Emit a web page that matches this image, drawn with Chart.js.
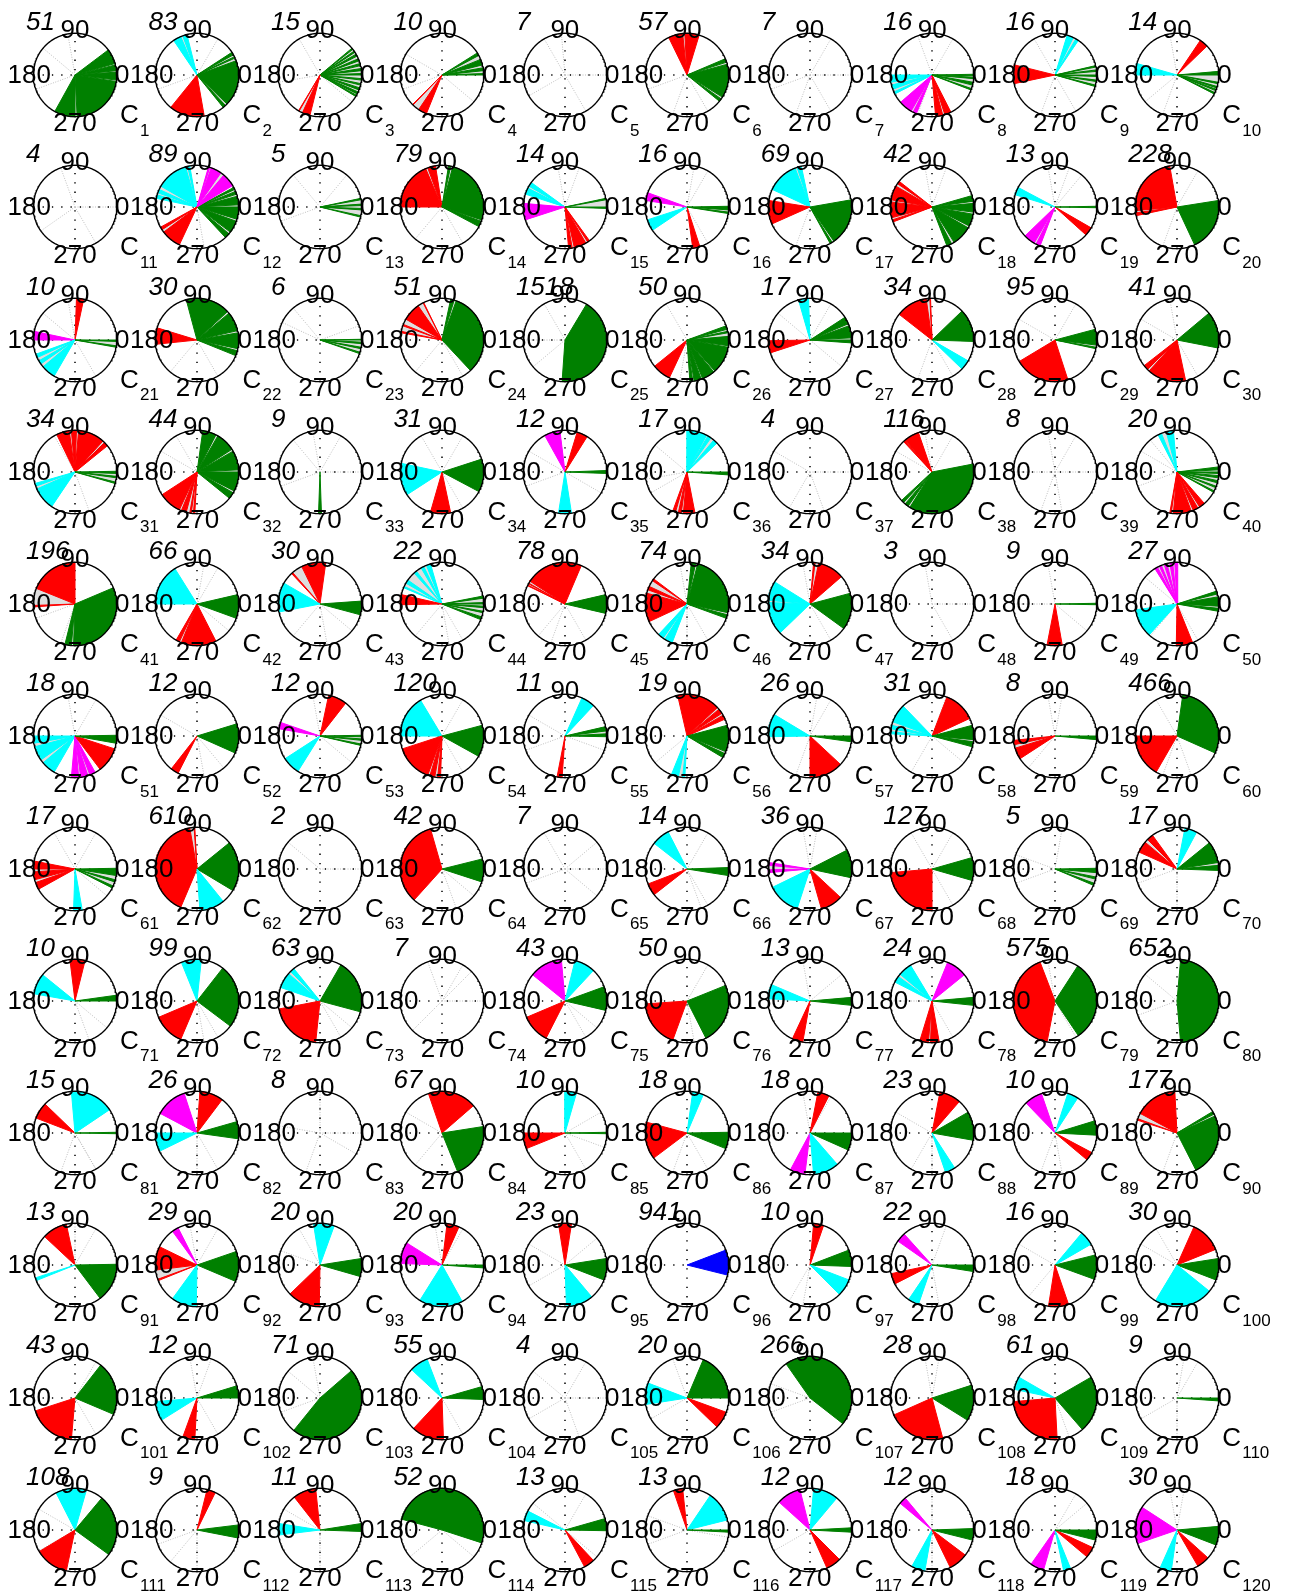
<!DOCTYPE html>
<html><head><meta charset="utf-8">
<script src="https://cdn.jsdelivr.net/npm/chart.js@4.4.0/dist/chart.umd.min.js"></script>
<style>
html,body{margin:0;padding:0;background:#fff;}
#page{position:relative;width:1290px;height:1595px;overflow:hidden;font-family:"Liberation Sans",Arial,Helvetica,sans-serif;color:#000;}
canvas.cv{position:absolute;}
.t{position:absolute;line-height:1;white-space:nowrap;}
</style></head><body><div id="page"></div>
<script>
// ---------------- DATA ----------------
const counts = [
  51,83,15,10,7,57,7,16,16,14,
  4,89,5,79,14,16,69,42,13,228,
  10,30,6,51,1518,50,17,34,95,41,
  34,44,9,31,12,17,4,116,8,20,
  196,66,30,22,78,74,34,3,9,27,
  18,12,12,120,11,19,26,31,8,466,
  17,610,2,42,7,14,36,127,5,17,
  10,99,63,7,43,50,13,24,575,652,
  15,26,8,67,10,18,18,23,10,177,
  13,29,20,20,23,941,10,22,16,30,
  43,12,71,55,4,20,266,28,61,9,
  108,9,11,52,13,13,12,12,18,30
];
const angleTickLabels = ['90','180','0','270'];
const clusterPrefix = 'C';

// fans: [colour, fromDeg, toDeg] (0 = east, counter-clockwise)
const fansRow1 = [
  [['g',-119,-89],['g',-87,-9],['g',-7,4],['g',6,14],['g',16,37]],
  [['c',104,110],['c',113,124],['r',231,280],['g',-51,-47],['g',-44,20],['g',24,26],['g',29,33]],
  [['g',38,40],['g',33,35],['g',27,30],['g',20,23],['g',13,16],['g',6,9],['g',0,2],['g',-7,-5],['g',-14,-12],['g',-21,-18],['g',-27,-24],['g',-31,-29],['r',239,240],['r',245,256]],
  [['g',0,2],['g',6,10],['g',14,22],['g',28,32],['r',225,226],['r',236,248]],
  [],
  [['r',73,93],['r',96,116],['g',-39,-35],['g',-32,15],['g',18,23]],
  [],
  [['c',180,190],['c',194,200],['c',204,207],['m',221,240],['m',243,248],['r',275,285],['r',288,297],['g',-21,-19],['g',-14,-10],['g',-5,-3],['g',-1,1]],
  [['c',56,60],['c',64,73],['r',166,192],['g',-16,-14],['g',-9,-7],['g',-2,0],['g',5,7],['g',11,13]],
  [['r',44,56],['c',164,180],['g',0,5],['g',-12,-10],['g',-18,-16],['g',-22,-20],['g',-27,-25]]
];
const fansRow2 = [
  [],
  [['c',100,103],['c',106,150],['c',155,160],['c',163,168],['g',-47,-40],['g',-37,-20],['g',-17,0],['g',3,15],['g',18,22],['g',25,28],['m',31,50],['m',55,70],['m',72,74],['r',209,213],['r',217,245]],
  [['g',-14,-12],['g',-4,-2],['g',2,4],['g',10,12]],
  [['r',99,110],['r',113,180],['g',-28,-20],['g',-18,75],['g',78,81]],
  [['c',144,150],['c',153,162],['m',175,198],['r',275,280],['r',283,300],['r',303,306],['g',-2,0],['g',10,12]],
  [['m',160,171],['c',198,214],['r',278,288],['g',-9,-7],['g',-4,1]],
  [['c',102,108],['c',111,155],['r',171,204],['g',-61,-58],['g',-55,10]],
  [['r',142,146],['r',150,170],['r',173,195],['r',198,201],['g',-69,-62],['g',-58,-30],['g',-27,-10],['g',-7,5],['g',8,16]],
  [['c',152,163],['m',224,240],['m',243,249],['r',-42,-30],['g',-1,1]],
  [['r',100,185],['r',188,192],['g',-65,9]]
];
const fansRow3 = [
  [['r',78,88],['m',168,180],['c',200,205],['c',210,215],['c',220,240],['g',-10,-8],['g',-2,0]],
  [['r',163,186],['g',-22,-15],['g',-12,10],['g',13,40],['g',43,105]],
  [['g',-19,-17],['g',-12,-10],['g',-5,-3],['g',0,1]],
  [['r',116,117],['r',125,150],['r',158,160],['r',168,170],['g',-47,70],['g',73,78]],
  [['g',-94,59]],
  [['r',219,245],['g',-86,-82],['g',-80,-70],['g',-68,-50],['g',-48,-10],['g',-8,5],['g',10,12],['g',15,20]],
  [['c',92,106],['r',181,198],['g',-4,0],['g',3,20],['g',23,33]],
  [['r',92,93],['r',98,142],['c',-44,-30],['g',-2,44]],
  [['g',-12,-10],['g',-7,15],['r',211,288]],
  [['g',-11,40],['r',218,225],['r',228,282]]
];
const fansRow4 = [
  [['r',39,45],['r',48,85],['r',88,95],['r',98,116],['c',196,200],['c',204,236],['g',-16,-14],['g',-8,-6],['g',-2,1]],
  [['g',-39,-30],['g',-27,0],['g',3,30],['g',33,60],['g',63,82],['r',213,245],['r',248,255],['r',260,262],['r',265,267]],
  [['g',268,272]],
  [['c',168,213],['r',254,282],['g',-28,18]],
  [['m',97,119],['r',58,73],['c',261,279],['g',-2,2]],
  [['c',44,50],['c',55,60],['c',62,89],['r',250,254],['r',258,262],['r',265,281],['g',-4,0]],
  [],
  [['r',109,130],['r',131,133],['g',-137,-133],['g',-130,-125],['g',-122,11]],
  [],
  [['c',95,105],['c',112,117],['g',-29,-27],['g',-22,-20],['g',-15,-12],['g',-8,-5],['g',-2,0],['g',3,7],['r',260,262],['r',265,290],['r',293,300],['r',303,311]]
];
const fansRow5 = [
  [['r',90,158],['r',182,184],['g',-104,-95],['g',-92,23]],
  [['c',122,180],['r',240,245],['r',248,297],['g',-20,13]],
  [['r',82,116],['r',131,133],['c',150,191],['g',-15,4]],
  [['c',106,112],['c',116,120],['c',128,132],['c',145,150],['c',155,157],['r',167,181],['g',-22,-18],['g',-12,-10],['g',-5,-3],['g',0,2],['g',8,11]],
  [['r',67,147],['r',150,151],['r',153,154],['g',-13,13]],
  [['r',143,146],['r',155,160],['r',165,205],['g',-20,-15],['g',-12,75],['g',78,84],['c',227,235],['c',238,249]],
  [['r',41,78],['r',83,85],['c',148,175],['c',178,224],['g',-36,15]],
  [],
  [['g',-1,1],['r',259,280]],
  [['m',89,93],['m',96,100],['m',104,108],['m',112,115],['m',118,122],['c',188,228],['r',269,292],['g',-10,-6],['g',-3,10],['g',14,18]]
];
const fansRow6 = [
  [['c',180,190],['c',195,215],['c',220,240],['m',265,275],['m',278,288],['m',291,299],['r',-53,-18],['g',-10,1]],
  [['g',-24,17],['r',232,243]],
  [['r',52,78],['m',161,170],['c',213,238],['g',-13,-11],['g',-6,-4],['g',-1,1]],
  [['c',121,180],['r',198,250],['r',253,260],['r',264,268],['g',-29,15]],
  [['c',47,66],['g',-1,3],['g',7,13],['r',259,266]],
  [['r',24,30],['r',33,40],['r',43,103],['g',-31,-25],['g',-22,15],['c',248,258],['c',264,267]],
  [['c',149,181],['r',270,317],['g',-8,0]],
  [['c',134,160],['c',165,170],['c',174,177],['r',25,69],['g',-15,-8],['g',-5,15]],
  [['r',186,192],['r',197,213],['g',-5,0]],
  [['g',-24,82],['r',180,240]]
];
const fansRow7 = [
  [['r',169,180],['r',184,195],['r',199,209],['c',268,280],['g',-27,-24],['g',-18,-15],['g',-9,1]],
  [['r',93,94],['r',100,247],['g',-31,39],['c',274,309]],
  [],
  [['r',106,228],['g',-18,14]],
  [],
  [['c',117,142],['r',201,218],['g',-9,2]],
  [['m',171,175],['m',181,185],['c',206,252],['r',286,317],['g',-12,27]],
  [['r',185,270],['g',-16,16]],
  [['g',-23,-20],['g',-14,-11],['g',-5,1]],
  [['r',126,135],['r',140,156],['c',62,79],['g',-2,5],['g',9,39]]
];
const fansRow8 = [
  [['r',76,97],['c',141,170],['g',0,8]],
  [['c',84,112],['g',-37,52],['r',203,247]],
  [['c',129,135],['c',139,161],['g',-15,60],['r',191,264]],
  [],
  [['m',95,141],['c',47,76],['g',-13,20],['r',203,243]],
  [['r',184,250],['g',-63,22]],
  [['c',157,177],['g',-6,5],['r',245,260]],
  [['c',121,140],['c',144,153],['m',39,68],['g',-6,5],['r',253,265],['r',268,280]],
  [['r',111,259],['g',-56,57]],
  [['g',-85,85]]
];
const fansRow9 = [
  [['r',136,159],['c',34,95],['g',-1,1]],
  [['m',108,152],['r',53,86],['c',180,206],['g',-8,16]],
  [],
  [['r',41,109],['g',-68,9]],
  [['c',74,90],['r',180,202],['g',-1,1]],
  [['c',67,82],['r',165,217],['g',-22,1]],
  [['r',63,79],['g',-24,0],['m',242,263],['c',275,311]],
  [['r',49,79],['g',-10,30],['c',289,303]],
  [['m',109,134],['c',57,72],['g',-3,17],['r',-40,-28]],
  [['r',93,152],['r',160,162],['g',-63,24],['g',27,31]]
];
const fansRow10 = [
  [['r',102,137],['c',198,202],['g',-53,1]],
  [['m',117,126],['r',154,187],['r',200,202],['g',-23,19],['c',234,269]],
  [['c',70,99],['g',-16,9],['r',224,269]],
  [['r',66,83],['m',148,178],['g',-4,0],['c',238,299]],
  [['r',81,99],['g',-21,9],['c',272,310]],
  [['b',-14,21]],
  [['r',71,85],['g',-2,21],['c',-45,-21]],
  [['m',132,145],['r',192,207],['c',236,251],['g',-9,0]],
  [['c',30,50],['g',-20,14],['r',261,289]],
  [['r',22,66],['g',-21,9],['c',239,321]]
];
const fansRow11 = [
  [['g',-23,52],['r',198,265]],
  [['g',0,17],['c',185,212],['r',250,267]],
  [['g',-129,41]],
  [['c',111,137],['g',-2,16],['r',227,272]],
  [],
  [['c',159,189],['g',0,67],['r',-44,-20]],
  [['g',-38,125]],
  [['g',-32,18],['r',204,285]],
  [['c',150,168],['g',-49,30],['r',185,273]],
  [['g',-4,0]]
];
const fansRow12 = [
  [['c',74,117],['g',-36,50],['r',211,258]],
  [['r',64,76],['g',-11,7]],
  [['r',96,128],['c',171,187],['g',-2,9]],
  [['g',-18,165]],
  [['c',153,167],['g',-1,16],['r',-62,-47]],
  [['r',96,109],['c',14,56],['g',-3,0]],
  [['m',104,138],['c',50,85],['g',-3,3],['r',-66,-45]],
  [['m',130,140],['g',-14,2],['c',241,260],['r',-64,-37]],
  [['m',235,254],['c',282,292],['r',-40,-25],['g',-14,0]],
  [['m',147,199],['g',-21,5],['r',-60,-42],['c',246,262]]
];

// faint grey background trajectories (direction, degrees)
const grayRays = [
  [100,140,200],[200,60],[190,-40,120],[150,-40,200],[95,0,210,300,120],[200,250,-60],[60,0,200,250,300],[60,110,250],[120,250,300],[220,250,100],
  [110,0,215,300],[220,280],[130,200,50],[230,300],[70,100,300],[60,80,300],[-60,250],[70,100],[70,100,50],[60,250,300],
  [-60,100,140],[230,-60],[155,20,130],[230,-60],[120,180,220],[120,260],[-40,60,140],[250,-60],[150,60,240],[150,-60,100],
  [290,120],[120,150],[0,60,100,200,130],[120,60,-60],[200,-30,150],[140,190,210],[0,240,290,150],[60,100,150],[0,100,60,250,280,180],[130,200,150],
  [200,250],[60,80,-40],[230,280,-40],[230,280,-60],[250,300,230],[100,-60,270],[-60,100],[0,300,100],[100,-40,180],[140,230,-60],
  [60,100],[150,280,-50],[-40,100],[60,-60],[150,-20,200],[100,220],[80,60,250],[-40,240,70],[100,230,80],[120,250,290],
  [60,120,-40],[-60],[0,140],[-40,290],[0,40,200,320,120],[60,-60,290],[80,100],[120,60,300],[80,160,200],[270,200],
  [-40,290],[280,300],[-40,300],[0,45,60,225,110],[-40,300],[60,280],[40,100],[180,300],[100,300],[140,200],
  [250,-60,300],[300,270],[0,90,170,250,330],[150,230],[30,-20,300],[300,250],[100,60],[150,270,240],[250,280],[250,300],
  [60,90],[60,100],[120,160],[60,100],[150,210,40],[],[240,260],[280,70],[150,230],[150,120],
  [300,60],[300,100,70],[140,100,200],[300,240],[0,140,210,290,60],[210,110],[160,200],[80,100],[270,290],[80,60,210,270],
  [210,150],[200,230,270],[150,270],[220,-40],[140,60,-40],[200,-10,160],[300,210],[270,90],[40,60,250],[80,100]
];

// ---------------- RENDERING ----------------
const fansByRow = [fansRow1,fansRow2,fansRow3,fansRow4,fansRow5,fansRow6,fansRow7,fansRow8,fansRow9,fansRow10,fansRow11,fansRow12];
const COLORS = {r:'#ff0000', g:'#008000', c:'#00ffff', m:'#ff00ff', b:'#0000ff'};
const NCOL = 10;
const X0 = 75, DX = 122.47, Y0 = 75, DY = 132.27;
const RPX = 41.7, HALF = 48, LIM = HALF / RPX;
const page = document.getElementById('page');
const FONT = '"Liberation Sans", Arial, Helvetica, sans-serif';
const FS = 26, FS_SUB = 17;

function rad(d){ return d*Math.PI/180; }
function sectorPts(a1, a2){
  const pts = [{x:0,y:0}];
  const n = Math.max(1, Math.ceil((a2 - a1) / 2));
  for (let i = 0; i <= n; i++){
    const a = rad(a1 + (a2 - a1) * i / n);
    pts.push({x:Math.cos(a), y:Math.sin(a)});
  }
  pts.push({x:0,y:0});
  return pts;
}
function circlePts(){
  const pts = [];
  for (let d = 0; d <= 360; d += 2) pts.push({x:Math.cos(rad(d)), y:Math.sin(rad(d))});
  return pts;
}
function text(str, x, baseline, size, align, italic){
  const d = document.createElement('div');
  d.className = 't';
  d.textContent = str;
  d.style.fontSize = size + 'px';
  d.style.fontFamily = FONT;
  if (italic) d.style.fontStyle = 'italic';
  d.style.left = x + 'px';
  d.style.top = (baseline - 0.8465 * size) + 'px';
  if (align === 'center') d.style.transform = 'translateX(-50%)';
  else if (align === 'right') d.style.transform = 'translateX(-100%)';
  page.appendChild(d);
  return d;
}

function buildDatasets(fans, rays){
  const back = [];
  const line = (data, color, width, dash) => ({data, showLine:true, borderColor:color, borderWidth:width,
      borderDash:dash||[], pointRadius:0, pointHoverRadius:0, fill:false, tension:0});
  // faint grey rays
  rays.forEach(a => back.push(line([{x:0,y:0},{x:Math.cos(rad(a)),y:Math.sin(rad(a))}], '#bdbdbd', 1, [1,1.5])));
  // dotted axes
  back.push(line([{x:-1,y:0},{x:1,y:0}], '#000', 1.5, [1.3,8]));
  back.push(line([{x:0,y:-1},{x:0,y:1}], '#000', 1.5, [1.3,8]));
  // light grey under-fill spanning each colour group
  const groups = {};
  fans.forEach(([c,a1,a2]) => {
    if (!groups[c]) groups[c] = [a1,a2];
    else { groups[c][0] = Math.min(groups[c][0], a1); groups[c][1] = Math.max(groups[c][1], a2); }
  });
  Object.keys(groups).forEach(c => {
    const [a1,a2] = groups[c];
    if (a2 - a1 > 1.5) back.push({data:sectorPts(a1,a2), showLine:true, borderWidth:0, borderColor:'rgba(0,0,0,0)',
      backgroundColor:'#dedede', fill:'shape', pointRadius:0, pointHoverRadius:0, tension:0});
  });
  // coloured sectors
  fans.forEach(([c,a1,a2]) => back.push({data:sectorPts(a1,a2), showLine:true, borderWidth:1, borderColor:COLORS[c],
      backgroundColor:COLORS[c], fill:'shape', pointRadius:0, pointHoverRadius:0, tension:0}));
  // outer circle
  back.push(line(circlePts(), '#000', 1.4));
  return back.reverse();
}

for (let i = 0; i < counts.length; i++){
  const row = Math.floor(i / NCOL), col = i % NCOL;
  const cx = X0 + col * DX, cy = Y0 + row * DY;
  const fans = fansByRow[row][col];
  const cv = document.createElement('canvas');
  cv.className = 'cv';
  cv.width = HALF*2; cv.height = HALF*2;
  cv.style.width = HALF*2 + 'px'; cv.style.height = HALF*2 + 'px';
  cv.style.left = (cx - HALF) + 'px'; cv.style.top = (cy - HALF) + 'px';
  page.appendChild(cv);
  new Chart(cv, {
    type:'scatter',
    data:{datasets: buildDatasets(fans, grayRays[i])},
    options:{
      responsive:false, maintainAspectRatio:false, animation:false, devicePixelRatio:1, events:[],
      layout:{padding:0},
      plugins:{legend:{display:false}, tooltip:{enabled:false}},
      scales:{
        x:{type:'linear', min:-LIM, max:LIM, display:false},
        y:{type:'linear', min:-LIM, max:LIM, display:false}
      }
    }
  });
  // labels
  text(String(counts[i]), cx - 49, cy - 45, FS, 'left', true);
  text(angleTickLabels[0], cx, cy - 37, FS, 'center');
  text(angleTickLabels[1], cx - 24, cy + 8, FS, 'right');
  text(angleTickLabels[2], cx + 40, cy + 8, FS, 'left');
  text(angleTickLabels[3], cx, cy + 56, FS, 'center');
  text(clusterPrefix, cx + 45, cy + 48, FS, 'left');
  text(String(i + 1), cx + 65, cy + 61, FS_SUB, 'left');
}
</script>
</body></html>
